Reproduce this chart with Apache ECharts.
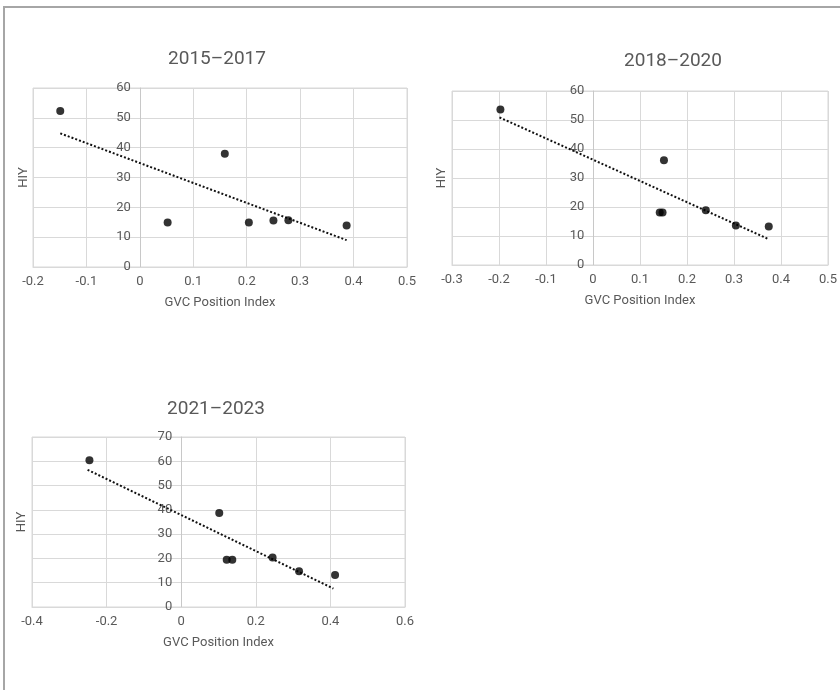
<!DOCTYPE html>
<html>
<head>
<meta charset="utf-8">
<script src="https://cdn.jsdelivr.net/npm/echarts@6/dist/echarts.min.js"></script>
<style>
html,body{margin:0;padding:0;background:#fff;}
#frame{position:absolute;left:3px;top:6px;width:837px;height:684px;border-top:2px solid #a6a6a6;border-left:2px solid #a6a6a6;box-sizing:border-box;pointer-events:none;}
#chart{position:absolute;left:0;top:0;width:840px;height:690px;}
</style>
</head>
<body>
<div id="chart"></div>
<div id="frame"></div>
<script>
// Panel titles
const titles = ['2015–2017', '2018–2020', '2021–2023'];
const xAxisName = 'GVC Position Index';
const yAxisName = 'HIY';

// 2015–2017
const x1 = [-0.149, 0.052, 0.159, 0.204, 0.250, 0.278, 0.387];
const y1 = [52.3, 14.9, 38.0, 14.9, 15.6, 15.7, 13.9];
const trendX1 = [-0.149, 0.387];
const trendY1 = [44.8, 9.0];

// 2018–2020
const x2 = [-0.197, 0.151, 0.142, 0.148, 0.240, 0.304, 0.374];
const y2 = [53.6, 36.1, 18.1, 18.1, 18.9, 13.6, 13.3];
const trendX2 = [-0.199, 0.374];
const trendY2 = [50.9, 8.9];

// 2021–2023
const x3 = [-0.246, 0.102, 0.122, 0.137, 0.245, 0.316, 0.4125];
const y3 = [60.4, 38.7, 19.5, 19.5, 20.4, 14.7, 13.2];
const trendX3 = [-0.251, 0.408];
const trendY3 = [56.5, 7.6];

// Axis ranges
const xMin = [-0.2, -0.3, -0.4];
const xMax = [0.5, 0.5, 0.6];
const xStep = [0.1, 0.1, 0.2];
const yMax = [60, 60, 70];
const yStep = [10, 10, 10];

const pts = (xs, ys) => xs.map((x, i) => [x, ys[i]]);

const FONT = 'Roboto, "Noto Sans", sans-serif';
const TXT = '#595959';

const grids = [
  {left: 33, top: 88, width: 374, height: 179},
  {left: 452, top: 91, width: 377, height: 174},
  {left: 32, top: 437, width: 373, height: 170}
];
const titlePos = [
  {left: 212, top: 45},
  {left: 668, top: 47},
  {left: 211, top: 395}
];
// distance of the HIY name from the grid's left edge
const yNameGapOutside = [3, 4, 4];

// y axis sits on x = 0 of the x scale
const zeroShift = i => grids[i].width * (0 - xMin[i]) / (xMax[i] - xMin[i]);

const chart = echarts.init(document.getElementById('chart'), null, {renderer: 'canvas'});

const option = {
  animation: false,
  backgroundColor: '#fff',
  title: titles.map((t, i) => ({
    text: t,
    left: titlePos[i].left,
    top: titlePos[i].top,
    textAlign: 'center',
    textStyle: {fontFamily: FONT, fontSize: 19, fontWeight: 'normal', color: TXT}
  })),
  grid: grids.map(g => Object.assign({show: true, borderColor: '#d9d9d9', borderWidth: 1, containLabel: false}, g)),
  xAxis: [0, 1, 2].map(i => ({
    type: 'value',
    gridIndex: i,
    min: xMin[i],
    max: xMax[i],
    interval: xStep[i],
    name: xAxisName,
    nameLocation: 'middle',
    nameGap: 29,
    nameMoveOverlap: false,
    nameTextStyle: {fontFamily: FONT, fontSize: 13, color: TXT},
    axisLine: {show: true, onZero: false, lineStyle: {color: '#d9d9d9'}},
    axisTick: {show: false},
    axisLabel: {fontFamily: FONT, fontSize: 13, color: TXT, margin: 8,
      formatter: v => String(Math.round(v * 10) / 10)},
    splitLine: {show: true, lineStyle: {color: '#d9d9d9', width: 1}}
  })),
  yAxis: [0, 1, 2].map(i => ({
    type: 'value',
    gridIndex: i,
    position: 'left',
    offset: -zeroShift(i),
    min: 0,
    max: yMax[i],
    interval: yStep[i],
    name: yAxisName,
    nameLocation: 'middle',
    nameGap: zeroShift(i) + yNameGapOutside[i],
    nameMoveOverlap: false,
    nameTextStyle: {fontFamily: FONT, fontSize: 13, color: TXT},
    axisLine: {show: true, onZero: false, lineStyle: {color: '#c8c8c8'}},
    axisTick: {show: false},
    axisLabel: {fontFamily: FONT, fontSize: 13, color: TXT, margin: 9},
    splitLine: {show: true, lineStyle: {color: '#d9d9d9', width: 1}}
  })),
  series: [
    [x1, y1, trendX1, trendY1],
    [x2, y2, trendX2, trendY2],
    [x3, y3, trendX3, trendY3]
  ].flatMap((d, i) => [
    {
      type: 'line',
      xAxisIndex: i, yAxisIndex: i,
      data: pts(d[2], d[3]),
      showSymbol: false,
      symbol: 'none',
      lineStyle: {color: '#111', width: 2, type: [2, 2]},
      z: 2
    },
    {
      type: 'scatter',
      xAxisIndex: i, yAxisIndex: i,
      data: pts(d[0], d[1]),
      symbol: 'circle',
      symbolSize: 8,
      itemStyle: {color: '#000'},
      z: 3
    }
  ])
};
chart.setOption(option);
</script>
</body>
</html>
